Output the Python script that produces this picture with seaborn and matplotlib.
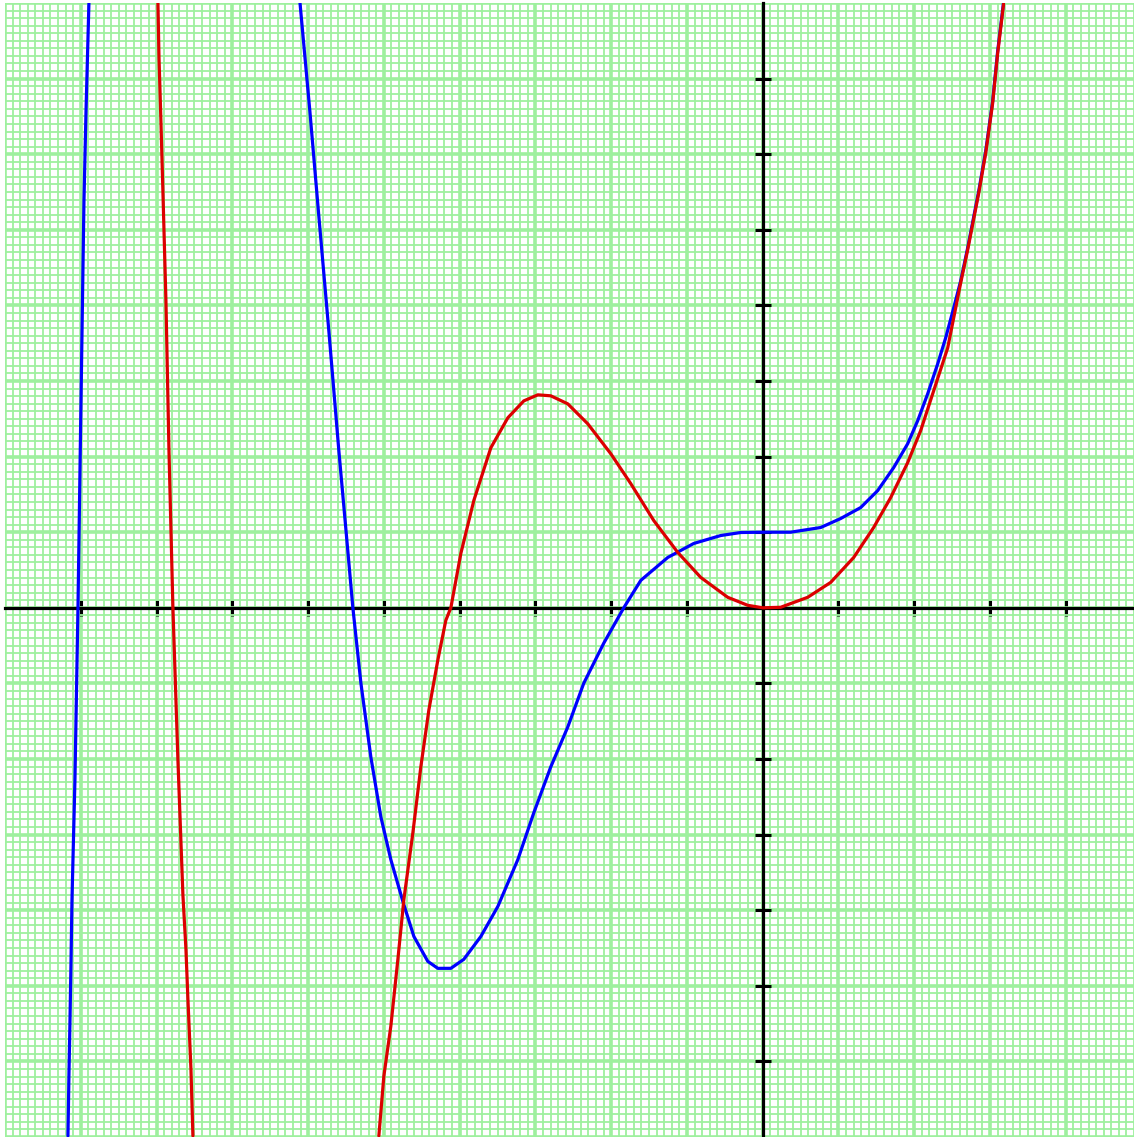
import numpy as np
import pandas as pd
import matplotlib
matplotlib.use("Agg")
import matplotlib.pyplot as plt
import seaborn as sns
from matplotlib.ticker import FixedLocator, MultipleLocator

# Blue curve: far-left branch and main branch (x, y in axis units)
blue_left_x = [-9.169, -9.156, -9.142, -9.129, -9.116, -9.077, -9.037, -8.997, -8.958, -8.931, -8.892]
blue_left_y = [-6.985, -6.168, -5.442, -4.690, -3.859, -2.276, 0.000, 2.737, 5.376, 6.563, 8.014]

blue_main_x = [-6.108, -5.976, -5.858, -5.726, -5.594, -5.488, -5.409, -5.303, -5.172, -5.040,
               -4.908, -4.749, -4.604, -4.420, -4.288, -4.116, -3.945, -3.720, -3.496, -3.232,
               -3.021, -2.797, -2.573, -2.361, -2.098, -1.834, -1.609, -1.253, -0.910, -0.554,
               -0.290, 0.000, 0.369, 0.765, 1.029, 1.293, 1.517, 1.728, 1.913, 2.045,
               2.177, 2.309, 2.414, 2.520, 2.612, 2.704, 2.850, 2.942, 3.034, 3.100, 3.179]
blue_main_y = [8.014, 6.563, 5.178, 3.661, 2.078, 0.891, 0.000, -0.996, -1.972, -2.764,
               -3.331, -3.885, -4.347, -4.677, -4.769, -4.769, -4.650, -4.347, -3.951, -3.331,
               -2.711, -2.104, -1.577, -0.996, -0.468, 0.000, 0.363, 0.666, 0.851, 0.956,
               0.996, 1.000, 1.000, 1.062, 1.181, 1.326, 1.550, 1.854, 2.170, 2.474,
               2.830, 3.226, 3.569, 3.965, 4.321, 4.756, 5.508, 6.036, 6.695, 7.355, 8.014]

# Red curve: far-left branch and main branch
red_left_x = [-7.982, -7.968, -7.942, -7.916, -7.876, -7.836, -7.784, -7.718, -7.652, -7.612,
              -7.586, -7.546, -7.520]
red_left_y = [8.014, 7.289, 6.431, 5.508, 4.057, 2.078, 0.000, -2.012, -3.800, -4.518,
              -5.178, -6.100, -6.985]

red_main_x = [-5.066, -5.000, -4.908, -4.815, -4.736, -4.617, -4.512, -4.406, -4.288, -4.182,
              -4.116, -3.984, -3.813, -3.588, -3.364, -3.153, -2.968, -2.797, -2.573, -2.309,
              -2.005, -1.741, -1.438, -1.121, -0.818, -0.462, -0.198, 0.000, 0.237, 0.594,
              0.897, 1.201, 1.464, 1.689, 1.913, 2.084, 2.256, 2.441, 2.612, 2.704,
              2.850, 2.942, 3.034, 3.100, 3.179]
red_main_y = [-6.985, -6.194, -5.534, -4.650, -3.859, -2.975, -2.104, -1.352, -0.693, -0.165,
              0.000, 0.719, 1.418, 2.117, 2.513, 2.737, 2.817, 2.804, 2.698, 2.434,
              2.038, 1.642, 1.154, 0.732, 0.402, 0.139, 0.033, 0.000, 0.007, 0.139,
              0.336, 0.666, 1.062, 1.458, 1.920, 2.342, 2.870, 3.437, 4.294, 4.730,
              5.481, 6.009, 6.669, 7.328, 7.988]

x_ticks = list(range(-10, 5))
y_ticks = list(range(-7, 9))

frames = []
for name, bx, by in [("blue_left", blue_left_x, blue_left_y),
                     ("blue_main", blue_main_x, blue_main_y),
                     ("red_left", red_left_x, red_left_y),
                     ("red_main", red_main_x, red_main_y)]:
    frames.append(pd.DataFrame({"x": bx, "y": by, "branch": name,
                                "curve": name.split("_")[0]}))
df = pd.concat(frames, ignore_index=True)

sns.set_style("white")

fig = plt.figure(figsize=(11.34, 11.37), dpi=100)
fig.patch.set_facecolor("white")
ax = fig.add_axes([5 / 1134, 0, 1129 / 1134, 1134 / 1137])
ax.set_xlim(-10, 4.9)
ax.set_ylim(-7, 8)

# graph-paper grid
grid_color = "#9ef09e"
ax.xaxis.set_major_locator(FixedLocator(x_ticks))
ax.yaxis.set_major_locator(FixedLocator(y_ticks))
ax.xaxis.set_minor_locator(MultipleLocator(0.1))
ax.yaxis.set_minor_locator(MultipleLocator(0.1))
ax.grid(which="minor", color=grid_color, lw=1.3)
ax.grid(which="major", color=grid_color, lw=2.6)
ax.set_axisbelow(True)

# axes through the origin with crossing tick marks
for side in ("top", "right"):
    ax.spines[side].set_visible(False)
for side in ("left", "bottom"):
    ax.spines[side].set_position(("data", 0))
    ax.spines[side].set_linewidth(2.3)
    ax.spines[side].set_color("black")
ax.tick_params(which="major", bottom=True, left=True, top=False, right=False,
               direction="inout", length=11, width=2.2, color="black",
               labelbottom=False, labelleft=False)
ax.tick_params(which="minor", bottom=False, left=False, length=0)
for t, v in zip(ax.xaxis.get_major_ticks(), x_ticks):
    if v in (-10, 0):
        t.tick1line.set_visible(False)
for t, v in zip(ax.yaxis.get_major_ticks(), y_ticks):
    if v in (-7, 0, 8):
        t.tick1line.set_visible(False)

palette = {"blue": "#0000ff", "red": "#dc0000"}
for branch in ["blue_left", "blue_main", "red_left", "red_main"]:
    sub = df[df["branch"] == branch]
    sns.lineplot(data=sub, x="x", y="y", color=palette[sub["curve"].iloc[0]],
                 lw=2.3, sort=False, estimator=None, ax=ax, zorder=3)

ax.set_xlabel("")
ax.set_ylabel("")
fig.savefig("out.png", dpi=100, facecolor="white")
